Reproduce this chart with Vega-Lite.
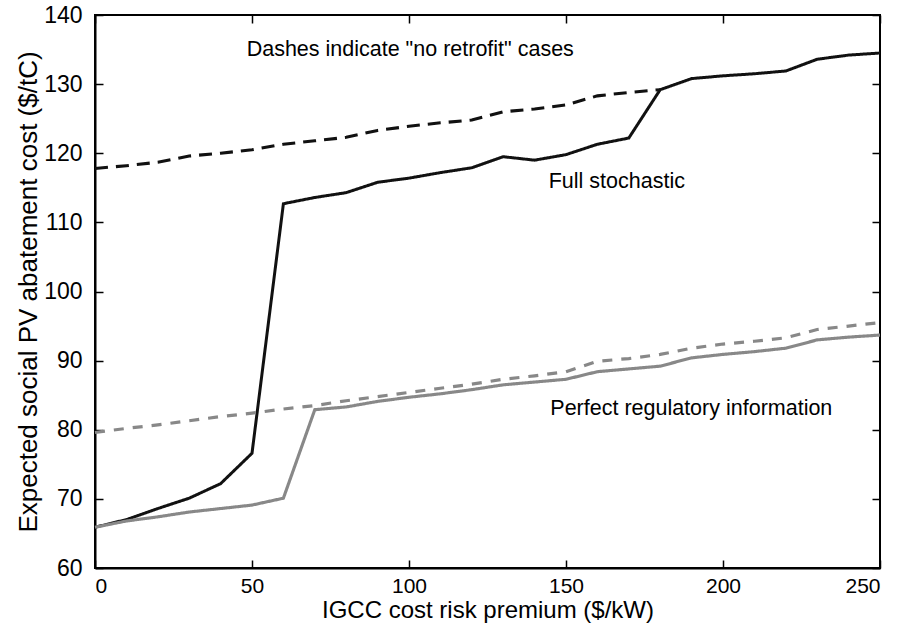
{
  "$schema": "https://vega.github.io/schema/vega-lite/v6.json",
  "width": 785,
  "height": 553,
  "autosize": {"type": "none"},
  "padding": {"left": 95, "top": 15, "right": 27, "bottom": 55},
  "background": "white",
  "config": {
    "font": "Liberation Sans",
    "view": {"stroke": "black", "strokeWidth": 2},
    "axis": {
      "domainColor": "black",
      "domainWidth": 2,
      "tickColor": "black",
      "tickWidth": 1.5,
      "tickSize": -8,
      "labelColor": "black",
      "titleColor": "black",
      "labelFont": "Liberation Sans",
      "titleFont": "Liberation Sans",
      "labelFontSize": 23,
      "titleFontSize": 24,
      "titleFontWeight": "normal",
      "grid": false
    }
  },
  "datasets": {
    "lines": [
      {"series": "Full stochastic", "x": 0, "y": 65.9},
      {"series": "Full stochastic", "x": 10, "y": 67.0},
      {"series": "Full stochastic", "x": 20, "y": 68.6},
      {"series": "Full stochastic", "x": 30, "y": 70.1},
      {"series": "Full stochastic", "x": 40, "y": 72.2},
      {"series": "Full stochastic", "x": 50, "y": 76.6},
      {"series": "Full stochastic", "x": 60, "y": 112.7},
      {"series": "Full stochastic", "x": 70, "y": 113.6},
      {"series": "Full stochastic", "x": 80, "y": 114.3},
      {"series": "Full stochastic", "x": 90, "y": 115.8},
      {"series": "Full stochastic", "x": 100, "y": 116.4},
      {"series": "Full stochastic", "x": 110, "y": 117.2},
      {"series": "Full stochastic", "x": 120, "y": 117.9},
      {"series": "Full stochastic", "x": 130, "y": 119.5},
      {"series": "Full stochastic", "x": 140, "y": 119.0},
      {"series": "Full stochastic", "x": 150, "y": 119.8},
      {"series": "Full stochastic", "x": 160, "y": 121.3},
      {"series": "Full stochastic", "x": 170, "y": 122.2},
      {"series": "Full stochastic", "x": 180, "y": 129.2},
      {"series": "Full stochastic", "x": 190, "y": 130.8},
      {"series": "Full stochastic", "x": 200, "y": 131.2},
      {"series": "Full stochastic", "x": 210, "y": 131.5},
      {"series": "Full stochastic", "x": 220, "y": 131.9},
      {"series": "Full stochastic", "x": 230, "y": 133.6},
      {"series": "Full stochastic", "x": 240, "y": 134.2},
      {"series": "Full stochastic", "x": 250, "y": 134.5},
      {"series": "Full stochastic, no retrofit", "x": 0, "y": 117.8},
      {"series": "Full stochastic, no retrofit", "x": 10, "y": 118.2},
      {"series": "Full stochastic, no retrofit", "x": 20, "y": 118.7},
      {"series": "Full stochastic, no retrofit", "x": 30, "y": 119.6},
      {"series": "Full stochastic, no retrofit", "x": 40, "y": 120.0},
      {"series": "Full stochastic, no retrofit", "x": 50, "y": 120.5},
      {"series": "Full stochastic, no retrofit", "x": 60, "y": 121.3},
      {"series": "Full stochastic, no retrofit", "x": 70, "y": 121.8},
      {"series": "Full stochastic, no retrofit", "x": 80, "y": 122.3},
      {"series": "Full stochastic, no retrofit", "x": 90, "y": 123.3},
      {"series": "Full stochastic, no retrofit", "x": 100, "y": 123.9},
      {"series": "Full stochastic, no retrofit", "x": 110, "y": 124.4},
      {"series": "Full stochastic, no retrofit", "x": 120, "y": 124.8},
      {"series": "Full stochastic, no retrofit", "x": 130, "y": 126.0},
      {"series": "Full stochastic, no retrofit", "x": 140, "y": 126.4},
      {"series": "Full stochastic, no retrofit", "x": 150, "y": 127.0},
      {"series": "Full stochastic, no retrofit", "x": 160, "y": 128.3},
      {"series": "Full stochastic, no retrofit", "x": 170, "y": 128.8},
      {"series": "Full stochastic, no retrofit", "x": 180, "y": 129.2},
      {"series": "Perfect regulatory information", "x": 0, "y": 65.9},
      {"series": "Perfect regulatory information", "x": 10, "y": 66.8},
      {"series": "Perfect regulatory information", "x": 20, "y": 67.4},
      {"series": "Perfect regulatory information", "x": 30, "y": 68.1},
      {"series": "Perfect regulatory information", "x": 40, "y": 68.6},
      {"series": "Perfect regulatory information", "x": 50, "y": 69.1},
      {"series": "Perfect regulatory information", "x": 60, "y": 70.1},
      {"series": "Perfect regulatory information", "x": 70, "y": 82.9},
      {"series": "Perfect regulatory information", "x": 80, "y": 83.3},
      {"series": "Perfect regulatory information", "x": 90, "y": 84.1},
      {"series": "Perfect regulatory information", "x": 100, "y": 84.7},
      {"series": "Perfect regulatory information", "x": 110, "y": 85.2},
      {"series": "Perfect regulatory information", "x": 120, "y": 85.8},
      {"series": "Perfect regulatory information", "x": 130, "y": 86.5},
      {"series": "Perfect regulatory information", "x": 140, "y": 86.9},
      {"series": "Perfect regulatory information", "x": 150, "y": 87.3},
      {"series": "Perfect regulatory information", "x": 160, "y": 88.4},
      {"series": "Perfect regulatory information", "x": 170, "y": 88.8},
      {"series": "Perfect regulatory information", "x": 180, "y": 89.2},
      {"series": "Perfect regulatory information", "x": 190, "y": 90.4},
      {"series": "Perfect regulatory information", "x": 200, "y": 90.9},
      {"series": "Perfect regulatory information", "x": 210, "y": 91.3},
      {"series": "Perfect regulatory information", "x": 220, "y": 91.8},
      {"series": "Perfect regulatory information", "x": 230, "y": 93.0},
      {"series": "Perfect regulatory information", "x": 240, "y": 93.4},
      {"series": "Perfect regulatory information", "x": 250, "y": 93.7},
      {"series": "Perfect regulatory information, no retrofit", "x": 0, "y": 79.6},
      {"series": "Perfect regulatory information, no retrofit", "x": 10, "y": 80.2},
      {"series": "Perfect regulatory information, no retrofit", "x": 20, "y": 80.7},
      {"series": "Perfect regulatory information, no retrofit", "x": 30, "y": 81.3},
      {"series": "Perfect regulatory information, no retrofit", "x": 40, "y": 81.9},
      {"series": "Perfect regulatory information, no retrofit", "x": 50, "y": 82.4},
      {"series": "Perfect regulatory information, no retrofit", "x": 60, "y": 83.0},
      {"series": "Perfect regulatory information, no retrofit", "x": 70, "y": 83.5},
      {"series": "Perfect regulatory information, no retrofit", "x": 80, "y": 84.2},
      {"series": "Perfect regulatory information, no retrofit", "x": 90, "y": 84.8},
      {"series": "Perfect regulatory information, no retrofit", "x": 100, "y": 85.4},
      {"series": "Perfect regulatory information, no retrofit", "x": 110, "y": 86.0},
      {"series": "Perfect regulatory information, no retrofit", "x": 120, "y": 86.6},
      {"series": "Perfect regulatory information, no retrofit", "x": 130, "y": 87.3},
      {"series": "Perfect regulatory information, no retrofit", "x": 140, "y": 87.8},
      {"series": "Perfect regulatory information, no retrofit", "x": 150, "y": 88.4},
      {"series": "Perfect regulatory information, no retrofit", "x": 160, "y": 89.9},
      {"series": "Perfect regulatory information, no retrofit", "x": 170, "y": 90.3},
      {"series": "Perfect regulatory information, no retrofit", "x": 180, "y": 90.9},
      {"series": "Perfect regulatory information, no retrofit", "x": 190, "y": 91.8},
      {"series": "Perfect regulatory information, no retrofit", "x": 200, "y": 92.4},
      {"series": "Perfect regulatory information, no retrofit", "x": 210, "y": 92.8},
      {"series": "Perfect regulatory information, no retrofit", "x": 220, "y": 93.3},
      {"series": "Perfect regulatory information, no retrofit", "x": 230, "y": 94.5},
      {"series": "Perfect regulatory information, no retrofit", "x": 240, "y": 95.0},
      {"series": "Perfect regulatory information, no retrofit", "x": 250, "y": 95.5}
    ],
    "labels": [
      {"label": "Dashes indicate \"no retrofit\" cases", "x": 48.3, "y": 134.9},
      {"label": "Full stochastic", "x": 144.5, "y": 115.9},
      {"label": "Perfect regulatory information", "x": 145, "y": 83.0}
    ]
  },
  "layer": [
    {
      "data": {"name": "lines"},
      "mark": {"type": "point", "opacity": 0},
      "encoding": {
        "x": {"field": "x", "type": "quantitative", "scale": {"domain": [0, 250], "nice": false}, "axis": {"orient": "top", "labels": false, "title": null, "values": [0, 50, 100, 150, 200, 250], "domain": false}},
        "y": {"field": "y", "type": "quantitative", "scale": {"domain": [60, 140], "nice": false}, "axis": {"orient": "right", "labels": false, "title": null, "values": [60, 70, 80, 90, 100, 110, 120, 130, 140], "domain": false}}
      }
    },
    {
      "data": {"name": "lines"},
      "mark": {"type": "line", "strokeCap": "butt", "strokeJoin": "miter"},
      "encoding": {
        "x": {"field": "x", "type": "quantitative", "scale": {"domain": [0, 250], "nice": false}, "axis": {"orient": "bottom", "title": "IGCC cost risk premium ($/kW)", "values": [0, 50, 100, 150, 200, 250], "labelPadding": 15, "titlePadding": 2, "labelFontSize": 21}},
        "y": {"field": "y", "type": "quantitative", "scale": {"domain": [60, 140], "nice": false}, "axis": {"orient": "left", "title": "Expected social PV abatement cost ($/tC)", "values": [60, 70, 80, 90, 100, 110, 120, 130, 140], "labelPadding": 21, "titlePadding": 2, "titleFontSize": 26}},
        "color": {"field": "series", "type": "nominal", "legend": null, "scale": {"domain": ["Full stochastic", "Full stochastic, no retrofit", "Perfect regulatory information", "Perfect regulatory information, no retrofit"], "range": ["#111111", "#111111", "#888888", "#888888"]}},
        "strokeDash": {"field": "series", "type": "nominal", "legend": null, "scale": {"domain": ["Full stochastic", "Full stochastic, no retrofit", "Perfect regulatory information", "Perfect regulatory information, no retrofit"], "range": [[1, 0], [13, 8], [1, 0], [10, 9]]}},
        "strokeWidth": {"field": "series", "type": "nominal", "legend": null, "scale": {"domain": ["Full stochastic", "Full stochastic, no retrofit", "Perfect regulatory information", "Perfect regulatory information, no retrofit"], "range": [3, 3.2, 3.8, 3.8]}},
        "order": {"field": "x", "type": "quantitative"}
      }
    },
    {
      "data": {"name": "labels"},
      "mark": {"type": "text", "align": "left", "baseline": "middle", "fontSize": 21.5, "font": "Liberation Sans", "color": "black"},
      "encoding": {
        "x": {"field": "x", "type": "quantitative", "axis": null},
        "y": {"field": "y", "type": "quantitative", "axis": null},
        "text": {"field": "label"}
      }
    }
  ],
  "resolve": {"axis": {"x": "independent", "y": "independent"}}
}
